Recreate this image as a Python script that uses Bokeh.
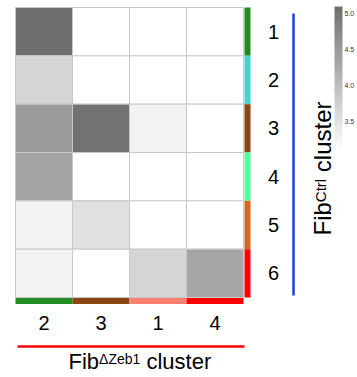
import math
from bokeh.plotting import figure
from bokeh.models import (ColumnDataSource, LinearColorMapper, ColorBar, FixedTicker,
                          PrintfTickFormatter, Range1d)
from bokeh.core.properties import value
from bokeh.embed import file_html
from bokeh.resources import INLINE

# ---------------- data ----------------
ctrl_clusters = ["1", "2", "3", "4", "5", "6"]          # rows, top to bottom (FibCtrl)
zeb1_clusters = ["2", "3", "1", "4"]                    # columns, left to right (FibΔZeb1)
# heat values per row (None = no value, drawn white)
row1 = [5.08, None, None, None]
row2 = [3.68, None, None, None]
row3 = [4.47, 5.04, 3.28, None]
row4 = [4.34, None, None, None]
row5 = [3.28, 3.53, None, None]
row6 = [3.28, None, 3.68, 4.33]
heat_rows = [row1, row2, row3, row4, row5, row6]
ctrl_colors = ["#228B22", "#48D1CC", "#8B4513", "#54FF9F", "#D2691E", "#FF0000"]
zeb1_colors = ["#228B22", "#8B4513", "#FA8072", "#FF0000"]
cbar_ticks = [3.5, 4.0, 4.5, 5.0]
cbar_low, cbar_high = 3.1, 5.1

# ---------------- layout ----------------
W, H = 357, 377
ncol, nrow = len(zeb1_clusters), len(ctrl_clusters)
CW, CH = 57.0, 290.0 / nrow    # cell size in px
LEFT_PAD, TOP_PAD = 15.0, 7.0  # px offsets of the heatmap

def px_x(px):
    return (px - LEFT_PAD) / CW

def px_y(py):
    return nrow - (py - TOP_PAD) / CH

FONT = value("Liberation Sans")
MID = 0.35   # em offset from baseline to text middle

p = figure(width=W, height=H, output_backend="svg", toolbar_location=None,
           x_range=Range1d(px_x(0), px_x(W)), y_range=Range1d(px_y(H), px_y(0)),
           min_border=0, min_border_left=0, min_border_right=0,
           min_border_top=0, min_border_bottom=0)
p.axis.visible = False
p.grid.visible = False
p.outline_line_color = None
p.background_fill_color = "white"
p.border_fill_color = "white"

# palette white -> gray
n = 256
top_gray = 0x6E
palette = []
for i in range(n):
    g = round(255 - (255 - top_gray) * i / (n - 1))
    palette.append("#%02x%02x%02x" % (g, g, g))
mapper = LinearColorMapper(palette=palette, low=cbar_low, high=cbar_high,
                           nan_color="white", low_color="white", high_color=palette[-1])

xs, ys, vals = [], [], []
for r, row in enumerate(heat_rows):
    for c, v in enumerate(row):
        xs.append(c + 0.5)
        ys.append(nrow - r - 0.5)
        vals.append(float("nan") if v is None else v)
src = ColumnDataSource(dict(x=xs, y=ys, v=vals))
p.rect(x="x", y="y", width=1, height=1, source=src,
       fill_color={"field": "v", "transform": mapper},
       line_color="#c8c8c8", line_width=1)

# right color strip (FibCtrl clusters)
sw = 6.0 / CW
p.rect(x=[ncol + 1.0 / CW + sw / 2] * nrow, y=[nrow - r - 0.5 for r in range(nrow)],
       width=sw, height=1, fill_color=ctrl_colors, line_color=None)
# bottom color strip (FibΔZeb1 clusters)
sh = 6.0 / CH
p.rect(x=[c + 0.5 for c in range(ncol)], y=[-0.5 / CH - sh / 2] * ncol,
       width=1, height=sh, fill_color=zeb1_colors, line_color=None)

# row labels
p.text(x=[px_x(273)] * nrow, y=[nrow - r - 0.5 for r in range(nrow)], text=ctrl_clusters,
       text_font=FONT, text_font_size="20px", text_align="center",
       text_baseline="middle", text_color="black")
# column labels
p.text(x=[c + 0.5 for c in range(ncol)], y=[px_y(322)] * ncol, text=zeb1_clusters,
       text_font=FONT, text_font_size="20px", text_align="center",
       text_baseline="middle", text_color="black")

# blue bracket line (FibCtrl)
p.line(x=[px_x(293)] * 2, y=[px_y(295), px_y(13)], line_color="#1f3ee0", line_width=2.5)
# red bracket line (FibΔZeb1)
p.line(x=[px_x(17), px_x(244)], y=[px_y(346)] * 2, line_color="#ff0000", line_width=2.5)

# horizontal title: Fib^ΔZeb1 cluster
BF, SF = 22, 14
hx0, hb, hs = 68.0, 369.0, 363.0
p.text(x=[px_x(hx0)], y=[px_y(hb - MID * BF)], text=["Fib"], text_font=FONT,
       text_font_size=f"{BF}px", text_align="left", text_baseline="middle", text_color="black")
p.text(x=[px_x(hx0 + 1.389 * BF)], y=[px_y(hs - MID * SF)], text=["\u0394Zeb1"], text_font=FONT,
       text_font_size=f"{SF}px", text_align="left", text_baseline="middle", text_color="black")
p.text(x=[px_x(hx0 + 1.389 * BF + 2.946 * SF + 0.278 * BF)], y=[px_y(hb - MID * BF)],
       text=["cluster"], text_font=FONT, text_font_size=f"{BF}px", text_align="left",
       text_baseline="middle", text_color="black")

# vertical title: Fib^Ctrl cluster (reads bottom to top)
VB, VS = 24, 15
vb, vs, vy0 = 330.0, 325.0, 235.0
ang = math.pi / 2
p.text(x=[px_x(vb - MID * VB)], y=[px_y(vy0)], text=["Fib"], angle=ang, text_font=FONT,
       text_font_size=f"{VB}px", text_align="left", text_baseline="middle", text_color="black")
p.text(x=[px_x(vs - MID * VS)], y=[px_y(vy0 - 1.389 * VB)], text=["Ctrl"], angle=ang,
       text_font=FONT, text_font_size=f"{VS}px", text_align="left", text_baseline="middle",
       text_color="black")
p.text(x=[px_x(vb - MID * VB)], y=[px_y(vy0 - 1.389 * VB - 1.555 * VS - 0.278 * VB)],
       text=["cluster"], angle=ang, text_font=FONT, text_font_size=f"{VB}px",
       text_align="left", text_baseline="middle", text_color="black")

# color bar
cb_top, cb_h = 6, 144
cb = ColorBar(color_mapper=mapper, location=(334, H - cb_top - cb_h), width=8, height=cb_h,
              padding=0, ticker=FixedTicker(ticks=cbar_ticks),
              formatter=PrintfTickFormatter(format="%.1f"),
              major_label_text_font_size="7px", major_label_text_font="Liberation Sans",
              major_label_text_color="#333333",
              label_standoff=2, major_tick_line_color=None, minor_tick_line_color=None,
              bar_line_color=None, border_line_color=None, background_fill_alpha=0)
p.add_layout(cb)

open("out.html", "w").write(file_html(p, INLINE))
